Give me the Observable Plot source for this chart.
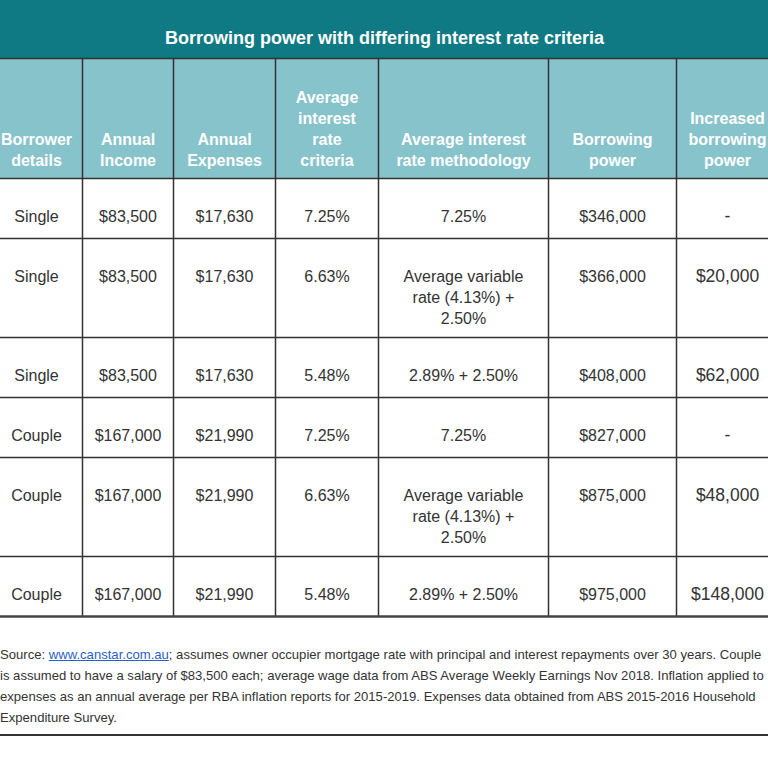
<!DOCTYPE html>
<html>
<head>
<meta charset="utf-8">
<script src="https://cdn.jsdelivr.net/npm/d3@7"></script>
<script src="https://cdn.jsdelivr.net/npm/@observablehq/plot@0.6"></script>
<style>
  html, body { margin: 0; padding: 0; background: #fff; overflow: hidden; width: 768px; height: 768px; }
  #chart svg { display: block; }
  .foot { font-family: "Liberation Sans", Arial, sans-serif; font-size: 13.1px; line-height: 21px; color: #333;
          margin-top: 22px; padding-bottom: 6px; border-bottom: 2px solid #333; white-space: nowrap; width: 768px; }
  .foot a { color: #2a5fc9; text-decoration: underline; }
</style>
</head>
<body>
<div id="chart"></div>
<div class="foot" id="foot"></div>
<script>
// ---- data ----
const title = "Borrowing power with differing interest rate criteria";
const headers = ["Borrower\ndetails", "Annual\nIncome", "Annual\nExpenses", "Average\ninterest\nrate\ncriteria",
                 "Average interest\nrate methodology", "Borrowing\npower", "Increased\nborrowing\npower"];
const borrower = ["Single", "Single", "Single", "Couple", "Couple", "Couple"];
const income = [83500, 83500, 83500, 167000, 167000, 167000];
const expenses = [17630, 17630, 17630, 21990, 21990, 21990];
const rateCriteria = [7.25, 6.63, 5.48, 7.25, 6.63, 5.48];
const methodology = ["7.25%", "Average variable\nrate (4.13%) +\n2.50%", "2.89% + 2.50%",
                     "7.25%", "Average variable\nrate (4.13%) +\n2.50%", "2.89% + 2.50%"];
const borrowingPower = [346000, 366000, 408000, 827000, 875000, 975000];
const increase = [null, 20000, 62000, null, 48000, 148000];
const sourceLink = "www.canstar.com.au";
const footLines = [
  "; assumes owner occupier mortgage rate with principal and interest repayments over 30 years. Couple",
  "is assumed to have a salary of $83,500 each; average wage data from ABS Average Weekly Earnings Nov 2018. Inflation applied to",
  "expenses as an annual average per RBA inflation reports for 2015-2019. Expenses data obtained from ABS 2015-2016 Household",
  "Expenditure Survey."
];

// ---- layout ----
const W = 768, H = 622;
const tableLeft = -10;
const colWidths = [92, 91, 102, 103, 170, 128, 102];
const titleH = 58, headerH = 120;
const teal = "#0f7a83", lightTeal = "#87c3cb", ink = "#333";
const font = "Liberation Sans, Arial, sans-serif";

const colEdges = Array.from(d3.cumsum([tableLeft, ...colWidths]));
const xs = colEdges.slice(0, -1).map((e, i) => (e + colEdges[i + 1]) / 2);
const left = colEdges[0], right = colEdges[colEdges.length - 1];
const headerBottom = titleH + headerH;
const rowHeights = methodology.map(m => 60 + (m.split("\n").length - 1) * 19.5);
const rowEdges = Array.from(d3.cumsum([headerBottom, ...rowHeights]));
const tableBottom = rowEdges[rowEdges.length - 1];

const money = v => "$" + d3.format(",")(v);
const pct = v => v.toFixed(2) + "%";

const cells = [];
borrower.forEach((b, i) => {
  const vals = [b, money(income[i]), money(expenses[i]), pct(rateCriteria[i]), methodology[i], money(borrowingPower[i])];
  vals.forEach((t, c) => cells.push({col: c, row: i, text: t}));
});
const incCells = increase.map((v, i) => ({col: 6, row: i, text: v == null ? "-" : money(v)}));

const plot = Plot.plot({
  width: W, height: H,
  margin: 0,
  x: {domain: [0, W], range: [0, W], axis: null},
  y: {domain: [0, H], range: [0, H], axis: null},
  style: {fontFamily: font, background: "white", overflow: "hidden"},
  marks: [
    Plot.rect([title], {x1: () => left, x2: () => right, y1: () => 0, y2: () => titleH, fill: teal}),
    Plot.rect([headers], {x1: () => left, x2: () => right, y1: () => titleH, y2: () => headerBottom, fill: lightTeal}),
    Plot.text([title], {text: d => d, x: () => (left + right) / 2, y: () => titleH * 0.65, fill: "white",
      fontWeight: "bold", fontSize: 18, fontFamily: font}),
    Plot.ruleX(colEdges, {x: d => d, y1: () => titleH, y2: () => tableBottom, stroke: ink, strokeWidth: 1.5}),
    Plot.ruleY(rowEdges.slice(0, -1).concat([titleH]), {y: d => d, x1: () => left, x2: () => right, stroke: ink, strokeWidth: 1.5}),
    Plot.ruleY([tableBottom], {y: d => d, x1: () => left, x2: () => right, stroke: "#444", strokeWidth: 2.5}),
    Plot.text(headers, {text: d => d, x: (d, i) => xs[i], y: () => headerBottom - 13, lineAnchor: "bottom",
      lineHeight: 1.3, fill: "white", fontWeight: "bold", fontSize: 16, fontFamily: font}),
    Plot.text(cells, {text: "text", x: d => xs[d.col], y: d => rowEdges[d.row] + 29, lineAnchor: "top",
      lineHeight: 1.3, fill: ink, fontSize: 16, fontFamily: font}),
    Plot.text(incCells, {text: "text", x: d => xs[d.col], y: d => rowEdges[d.row] + 31.5, lineAnchor: "top",
      fill: ink, fontSize: 17.5, fontFamily: font})
  ]
});
document.getElementById("chart").append(plot);

const foot = document.getElementById("foot");
foot.append("Source: ");
const a = document.createElement("a");
a.href = "#"; a.textContent = sourceLink;
foot.append(a);
footLines.forEach((line, i) => {
  if (i > 0) foot.append(document.createElement("br"));
  foot.append(line);
});
</script>
</body>
</html>
